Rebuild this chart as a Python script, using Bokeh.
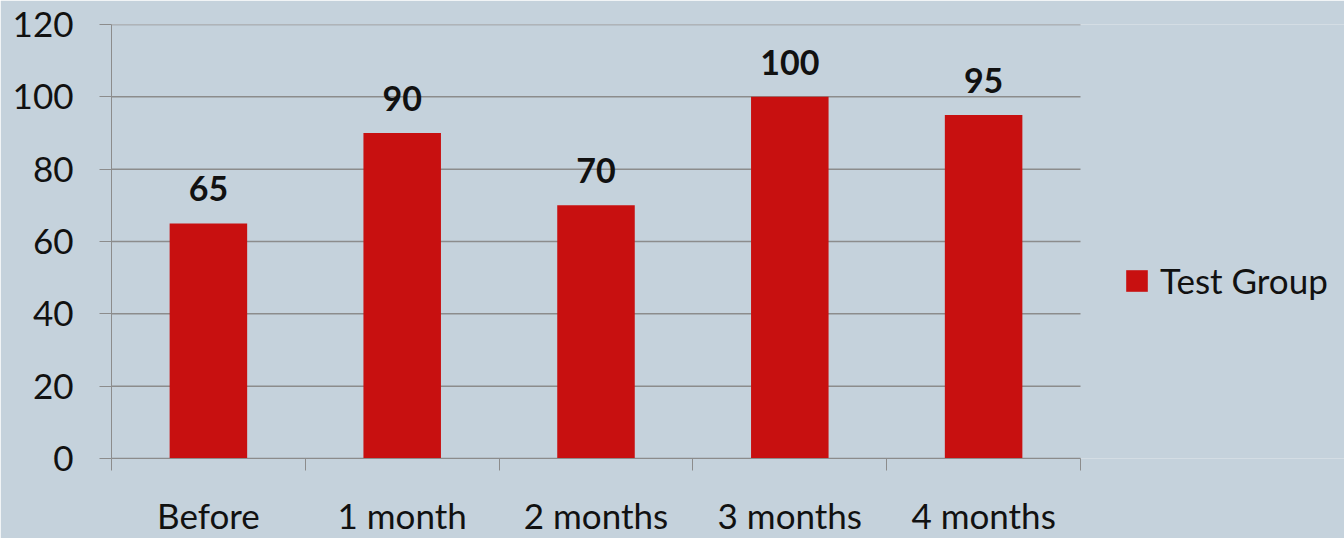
import numpy as np
from bokeh.plotting import figure
from bokeh.models import ColumnDataSource, FixedTicker, Legend, LegendItem, Range1d, LabelSet
from bokeh.core.properties import value
from bokeh.embed import file_html
from bokeh.resources import INLINE

categories = ["Before", "1 month", "2 months", "3 months", "4 months"]
values = [65, 90, 70, 100, 95]
series_name = "Test Group"
y_ticks = [0, 20, 40, 60, 80, 100, 120]

BG = "#C5D2DC"
BAR = "#C81010"
GRID = "#8C8C8C"
FONT = "Lato"

n = len(categories)
PLOT_W = 969      # pixel width of the category area
FRAME_W = 1233    # frame extends to the right edge so the legend can sit inside it
xs = np.arange(n) + 0.5
src = ColumnDataSource(dict(x=xs, top=values, label=[str(v) for v in values]))

p = figure(width=1344, height=538, output_backend="svg", toolbar_location=None,
           x_range=Range1d(0, n * FRAME_W / PLOT_W), y_range=Range1d(0, 120),
           min_border_left=111, min_border_top=24, min_border_right=0, min_border_bottom=78)
p.background_fill_color = BG
p.border_fill_color = BG
p.outline_line_color = None

# horizontal gridlines only across the category area
p.segment(x0=0, x1=n, y0=y_ticks, y1=y_ticks, line_color=GRID, line_width=1.5)

r = p.vbar(x="x", top="top", width=0.4, source=src, fill_color=BAR, line_color=None)

labels = LabelSet(x="x", y="top", text="label", source=src, text_align="center",
                  text_baseline="alphabetic", y_offset=22, text_font=value(FONT),
                  text_font_style="bold", text_font_size="34px", text_color="#111111")
p.add_layout(labels)

# y axis
p.yaxis.ticker = FixedTicker(ticks=y_ticks)
p.yaxis.axis_line_color = GRID
p.yaxis.major_tick_line_color = GRID
p.yaxis.major_tick_out = 12
p.yaxis.major_tick_in = 0
p.yaxis.minor_tick_line_color = None
p.yaxis.major_label_standoff = 26
p.yaxis.major_label_text_font = FONT
p.yaxis.major_label_text_font_size = "35px"
p.yaxis.major_label_text_color = "#111111"

# x axis
p.xaxis.bounds = (0, n)
p.xaxis.ticker = FixedTicker(ticks=list(xs), minor_ticks=list(range(n + 1)))
p.xaxis.major_label_overrides = {float(x): c for x, c in zip(xs, categories)}
p.xaxis.axis_line_color = GRID
p.xaxis.major_tick_line_color = None
p.xaxis.major_tick_out = 0
p.xaxis.major_tick_in = 0
p.xaxis.minor_tick_line_color = GRID
p.xaxis.minor_tick_out = 12
p.xaxis.minor_tick_in = 0
p.xaxis.major_label_standoff = 23
p.xaxis.major_label_text_font = FONT
p.xaxis.major_label_text_font_size = "35px"
p.xaxis.major_label_text_color = "#111111"

p.xgrid.grid_line_color = None
p.ygrid.grid_line_color = None

legend = Legend(items=[LegendItem(label=series_name, renderers=[r])],
                location=(1012, 157), background_fill_alpha=0, border_line_color=None,
                label_text_font=FONT, label_text_font_size="35px", label_text_color="#111111",
                glyph_width=27, glyph_height=27, padding=0, margin=0, label_standoff=10)
p.add_layout(legend)

open("out.html", "w").write(file_html(p, INLINE))
